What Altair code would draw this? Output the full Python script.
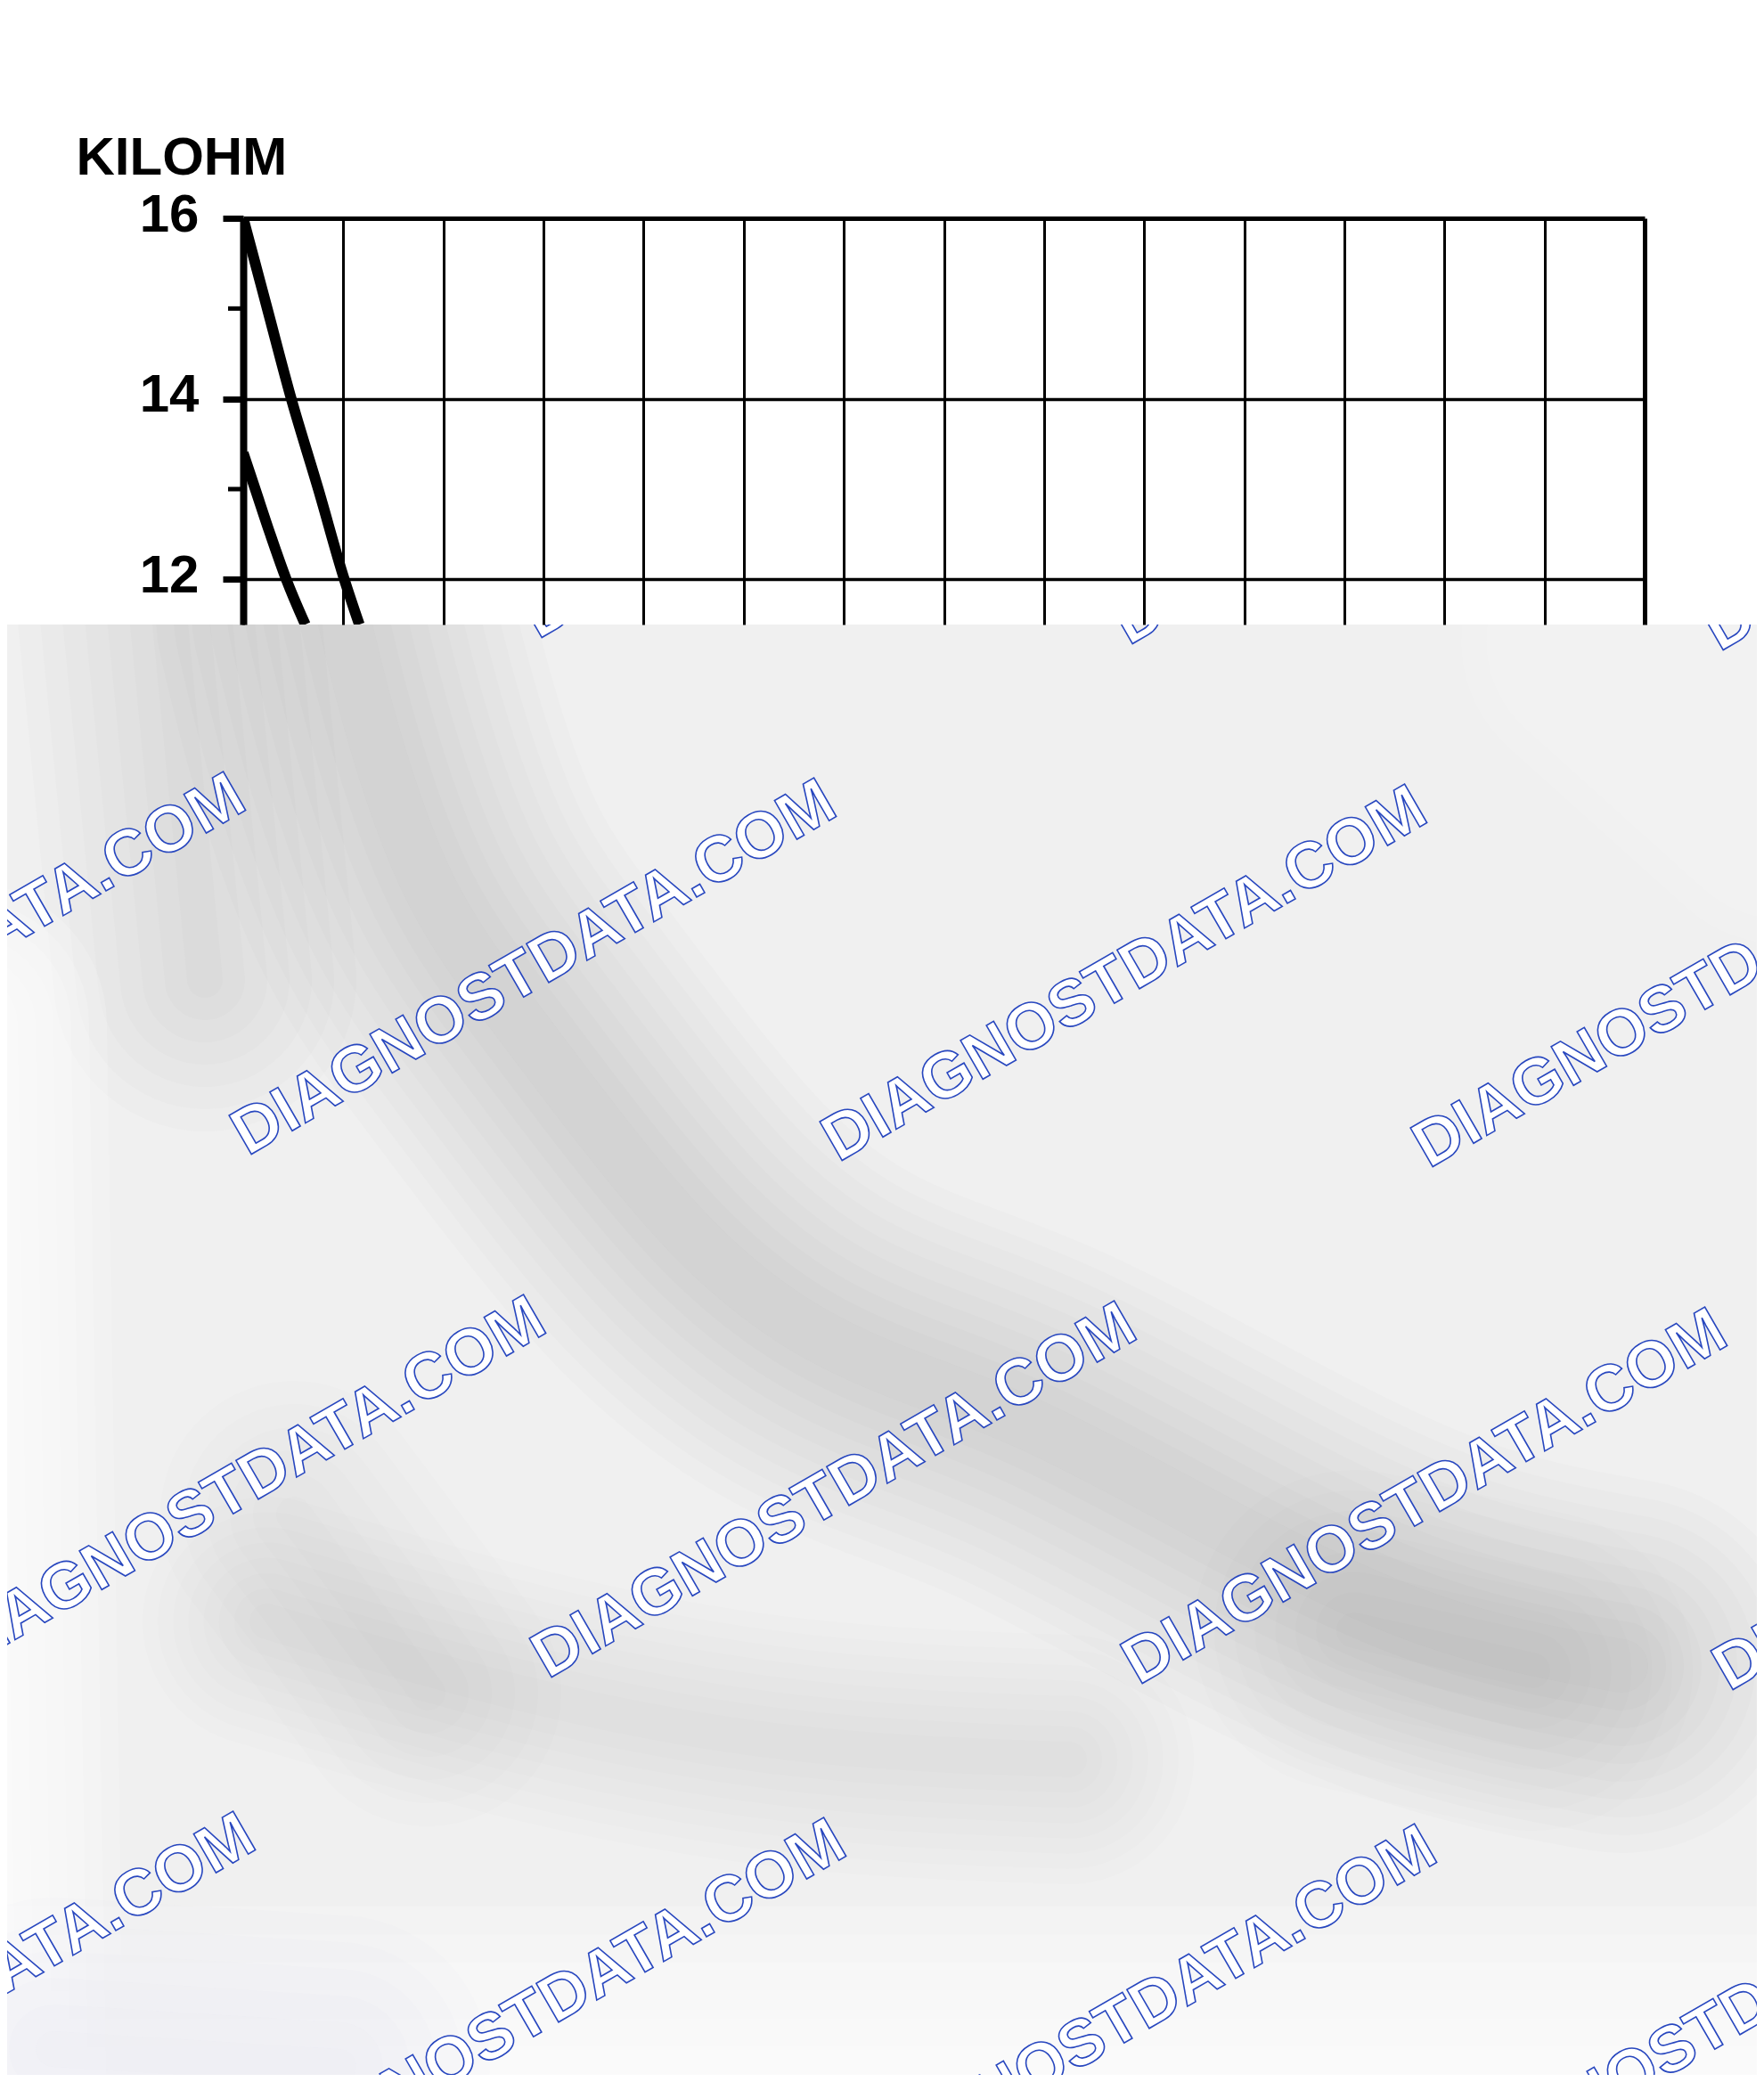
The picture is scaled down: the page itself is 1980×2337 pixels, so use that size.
import altair as alt
import pandas as pd

# ---------------- chart values ----------------
y_labels = [12, 14, 16]          # labelled y ticks (kilohm)
y_minor = [13, 15]               # small unlabelled ticks
x_grid = list(range(0, 15))      # 14 grid columns (axis labels hidden by overlay)

upper_x = [0.0, 0.12, 0.24, 0.48, 0.75, 1.01, 1.16]
upper_y = [16.0, 15.5, 15.0, 14.0, 13.0, 12.0, 11.5]
lower_x = [0.0, 0.12, 0.27, 0.43, 0.62]
lower_y = [13.4, 13.0, 12.5, 12.0, 11.5]

y_title = "KILOHM"
watermark = "DIAGNOSTDATA.COM"

# ---------------- layout (page pixels) ----------------
OX, OY = 273, 245            # plot origin on the page
W, H = 1573, 456             # plot area
PAD = {"left": OX - 8, "top": OY - 8, "right": 1964 - (OX - 8) - W, "bottom": 2321 - (OY - 8) - H}
LEFT, TOP = -(OX - 8), -(OY - 8)
RIGHT, BOTTOM = W + PAD["right"], H + PAD["bottom"]

# watermark start points (page coords)
wm_x = [604, 1267, 1930, -385, 278, 941, 1604, -48, 615, 1278, 1941, -374, 289, 952, 1615]
wm_y = [718, 725, 732, 1291, 1298, 1305, 1312, 1878, 1885, 1892, 1899, 2458, 2465, 2472, 2479]

# blurred shadows in the overlay (page coords):
# name, colour, widest stroke, narrowest stroke, layers, opacity per layer, path
blur_paths = [
    ("p1", "#777777", 420, 60, 10, 0.025,
     [(385, 690), (415, 818), (478, 1009), (574, 1136), (670, 1264), (780, 1400), (893, 1490),
      (1000, 1540), (1150, 1590), (1350, 1700), (1600, 1830), (1820, 1870)]),
    ("p2", "#777777", 280, 40, 8, 0.014, [(300, 1820), (600, 1910), (900, 1965), (1200, 1975)]),
    ("p3", "#777777", 360, 40, 8, 0.014, [(1520, 1830), (1720, 1875)]),
    ("p4", "#777777", 340, 40, 7, 0.02, [(190, 690), (230, 1100)]),
    ("p5", "#777777", 300, 40, 6, 0.016, [(330, 1700), (480, 1900)]),
    ("w1", "#ffffff", 320, 40, 8, 0.17, [(-40, 1150), (-20, 2400)]),
    ("w2", "#ffffff", 480, 40, 8, 0.2, [(-40, 2380), (2020, 2380)]),
    ("w3", "#ffffff", 320, 40, 6, 0.07, [(1800, 720), (2000, 900)]),
    ("b1", "#dfe4f6", 340, 40, 6, 0.07, [(60, 2300), (380, 2320)]),
]

# ---------------- tables ----------------
curves = pd.DataFrame({
    "x": upper_x + lower_x,
    "y": upper_y + lower_y,
    "s": ["upper"] * len(upper_x) + ["lower"] * len(lower_x),
    "k": list(range(len(upper_x))) + list(range(len(lower_x))),
})
minor = pd.DataFrame({"y": y_minor})
wm = pd.DataFrame({"wx": [v - OX for v in wm_x], "wy": [v - OY for v in wm_y]})

rows = []
for name, col, wmax, wmin, n, op, pts in blur_paths:
    for i in range(n):
        w = wmax - (wmax - wmin) * i / max(n - 1, 1)
        for k, (px, py) in enumerate(pts):
            rows.append({"g": f"{name}_{i}", "px": px - OX, "py": py - OY, "w": w,
                         "c": col, "o": op, "k": k})
blur = pd.DataFrame(rows)
one = pd.DataFrame({"a": [0]})

FONT = "Liberation Sans"

# ---------------- layers ----------------
base = alt.Chart(one).mark_rect(fill="#f0f0f0").encode(
    x=alt.value(LEFT), x2=alt.value(RIGHT), y=alt.value(H), y2=alt.value(BOTTOM))

shadows = alt.Chart(blur).mark_line(strokeCap="round", strokeJoin="round", interpolate="basis").encode(
    x=alt.X("px:Q", scale=None),
    y=alt.Y("py:Q", scale=None),
    detail="g:N",
    order="k:O",
    size=alt.Size("w:Q", scale=None),
    color=alt.Color("c:N", scale=None),
    opacity=alt.Opacity("o:Q", scale=None),
)

marks = alt.Chart(wm).mark_text(
    text=watermark, angle=330, align="left", baseline="alphabetic",
    font=FONT, fontWeight="bold", fontSize=73,
    fill="#ffffff", stroke="#2847bf", strokeWidth=1.6,
).encode(x=alt.X("wx:Q", scale=None), y=alt.Y("wy:Q", scale=None))

cover = alt.Chart(one).mark_rect(fill="#ffffff").encode(
    x=alt.value(LEFT), x2=alt.value(RIGHT), y=alt.value(TOP), y2=alt.value(H))

ticks = alt.Chart(minor).mark_rule(color="black", strokeWidth=5).encode(
    y=alt.Y("y:Q"), x=alt.value(-17), x2=alt.value(0))

lines = alt.Chart(curves).mark_line(color="black", strokeWidth=12, clip=True,
                                    interpolate="monotone", strokeCap="butt").encode(
    x=alt.X("x:Q", scale=alt.Scale(domain=[0, 14], nice=False, zero=False),
            axis=alt.Axis(values=x_grid, labels=False, ticks=False, domain=False, title="",
                          grid=True, gridColor="black", gridOpacity=1, zindex=1,
                          gridWidth={"condition": {"test": "datum.value == 14", "value": 5}, "value": 3})),
    y=alt.Y("y:Q", scale=alt.Scale(domain=[11.5, 16], nice=False, zero=False),
            axis=alt.Axis(values=y_labels, format="d", title=y_title, titleAngle=0,
                          titleAlign="left", titleBaseline="alphabetic", titleX=-188, titleY=-50,
                          titleFont=FONT, titleFontSize=60, titleFontWeight="bold", titleColor="black",
                          labelFont=FONT, labelFontSize=60, labelFontWeight="bold", labelColor="black",
                          labelPadding=27, labelOffset=-4,
                          tickSize=23, tickWidth=7, tickColor="black",
                          domainWidth=8, domainColor="black",
                          grid=True, gridColor="black", gridOpacity=1, zindex=1,
                          gridWidth={"condition": {"test": "datum.value == 16", "value": 5}, "value": 3.5})),
    detail="s:N",
    order="k:O",
)

chart = alt.layer(base, shadows, marks, cover, ticks, lines).properties(
    width=W, height=H, padding=PAD, autosize=alt.AutoSizeParams(type="none"),
    background="white",
).configure_view(strokeWidth=0)

chart.save("out.html", embed_options={"renderer": "svg", "actions": False})
